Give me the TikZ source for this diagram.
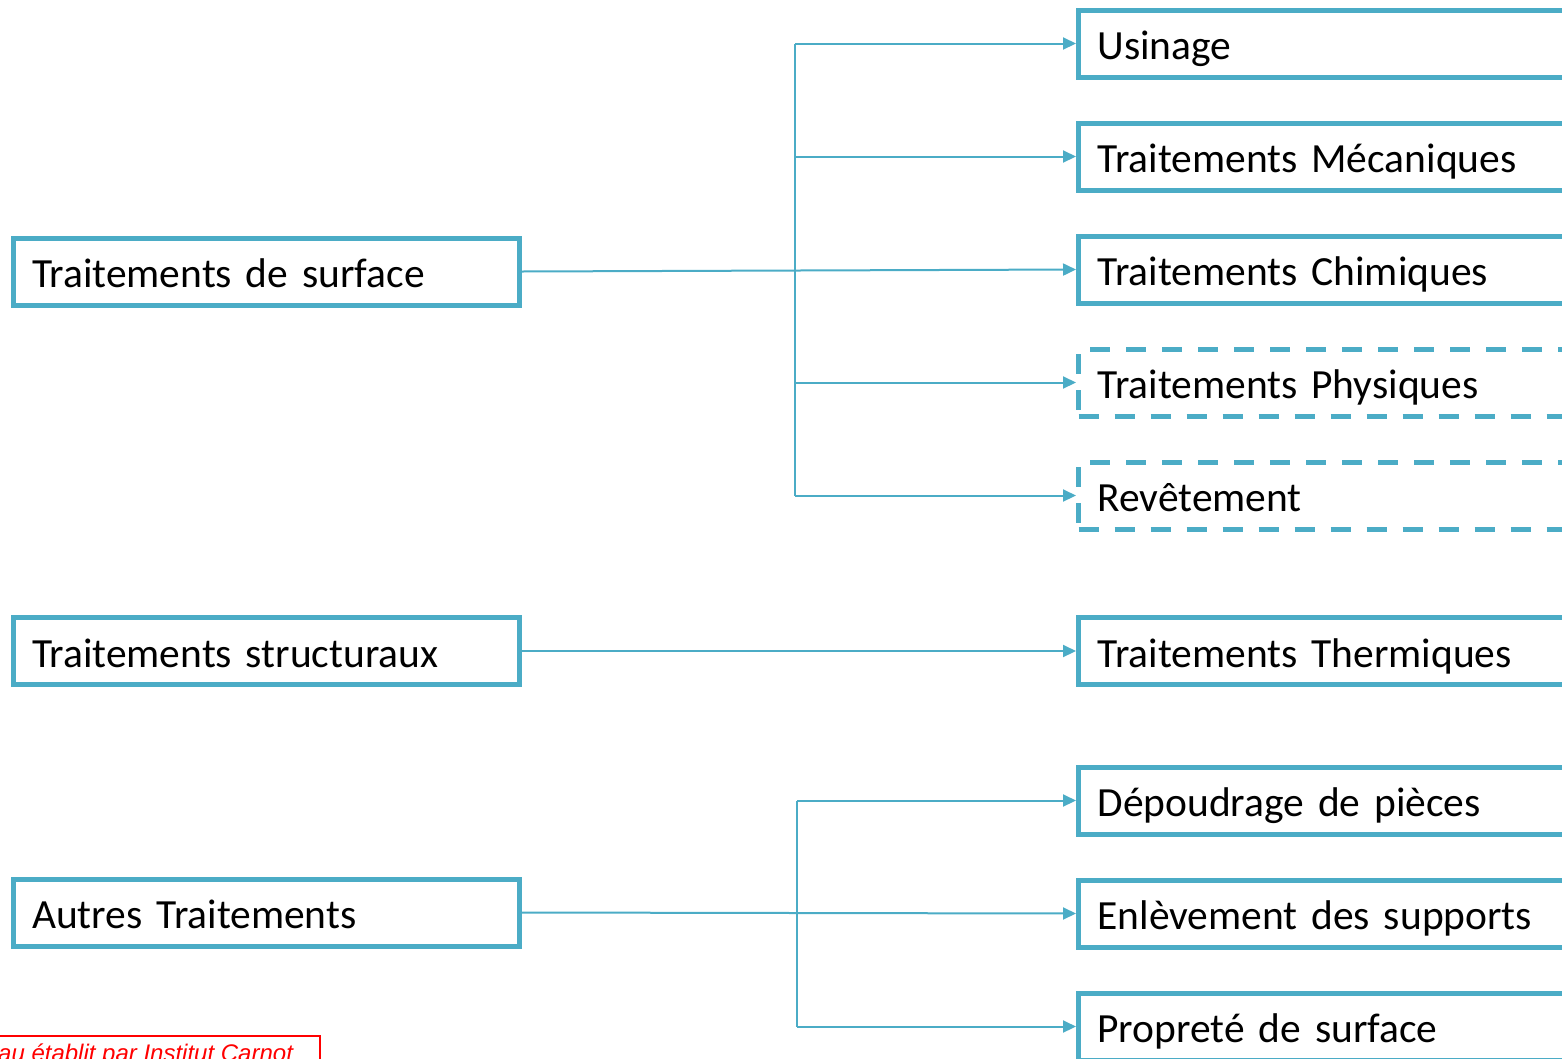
\documentclass[tikz,border=0pt]{standalone}
\usepackage{fontspec}
\setmainfont{Carlito}
\newfontfamily\notefont{Liberation Sans}
\usetikzlibrary{positioning, arrows.meta}
\definecolor{boxBlue}{RGB}{75,172,198}
\tikzstyle{leftNode}=[draw=boxBlue, line width=5pt, minimum height=67pt, text width=468pt, inner xsep=19pt, inner ysep=4pt, text height=40pt, text depth=8pt, align=left, font=\fontsize{41.5}{48}\selectfont]
\tikzstyle{rightNode}=[leftNode, anchor=west, text width=520pt]
\tikzstyle{dashedNode}=[rightNode, dash pattern=on 20pt off 16pt]
\tikzstyle{branchLine}=[draw=boxBlue, line width=2pt]
\tikzstyle{branchArrow}=[branchLine, -{Triangle[length=13pt,width=12pt]}]
\tikzstyle{noteNode}=[draw=red, line width=2pt, text=red, font=\notefont\itshape\fontsize{24}{28}\selectfont, align=right, inner xsep=27pt, inner ysep=8pt]

\begin{document}
\begin{tikzpicture}[x=1pt, y=-1pt]
        \useasboundingbox (0,0) rectangle (1562,1058);
        \clip (0,0) rectangle (1562,1058);

        % left column
        \node[leftNode] (surf) at (266, 271.5) {Traitements de surface};
        \node[leftNode] (struct) at (266, 651) {Traitements structuraux};
        \node[leftNode] (autres) at (266, 912.5) {Autres Traitements};

        % right column
        \node[rightNode] (usin) at (1076, 43.5) {Usinage};
        \node[rightNode] (meca) at (1076, 156.5) {Traitements Mécaniques};
        \node[rightNode] (chim) at (1076, 269.5) {Traitements Chimiques};
        \node[dashedNode] (phys) at (1076, 382.5) {Traitements Physiques};
        \node[dashedNode] (revet) at (1076, 495.5) {Revêtement};
        \node[rightNode] (therm) at (1076, 651) {Traitements Thermiques};
        \node[rightNode] (depou) at (1076, 800.5) {Dépoudrage de pièces};
        \node[rightNode] (enlev) at (1076, 913.5) {Enlèvement des supports};
        \node[rightNode] (propre) at (1076, 1026.5) {Propreté de surface};

        \coordinate (b1) at (795, 0);
        \coordinate (b2) at (797, 0);

        % surface branches
        \draw[branchArrow] (surf.east) -- (chim.west);
        \draw[branchLine] (b1 |- usin.west) -- (b1 |- revet.west);
        \draw[branchArrow] (b1 |- usin.west) -- (usin.west);
        \draw[branchArrow] (b1 |- meca.west) -- (meca.west);
        \draw[branchArrow] (b1 |- phys.west) -- (phys.west);
        \draw[branchArrow] (b1 |- revet.west) -- (revet.west);

        \draw[branchArrow] (struct.east) -- (therm.west);

        % other branches
        \draw[branchArrow] (autres.east) -- (enlev.west);
        \draw[branchLine] (b2 |- depou.west) -- (b2 |- propre.west);
        \draw[branchArrow] (b2 |- depou.west) -- (depou.west);
        \draw[branchArrow] (b2 |- propre.west) -- (propre.west);

        \node[noteNode, anchor=north east] (note) at (321, 1035) {Tableau établit par Institut Carnot};

    \end{tikzpicture}
\end{document}
